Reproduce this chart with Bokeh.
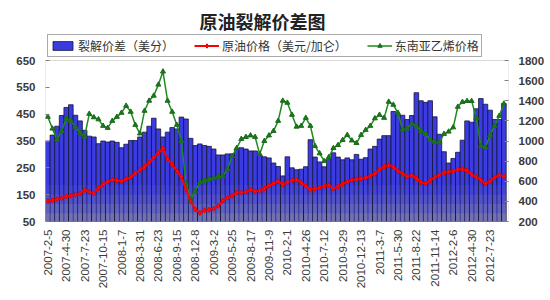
import numpy as np
from bokeh.plotting import figure
from bokeh.models import (Range1d, LinearAxis, FixedTicker, Legend, LegendItem, Label,
                          BoxAnnotation)
from bokeh.embed import file_html
from bokeh.resources import INLINE

# ---- data (one value every 3 weeks) ----
date_labels = ["2007-2-5", "2007-4-30", "2007-7-23", "2007-10-15", "2008-1-7",
               "2008-3-31", "2008-6-23", "2008-9-15", "2008-12-8", "2009-3-2",
               "2009-5-25", "2009-8-17", "2009-11-9", "2010-2-1", "2010-4-26",
               "2010-7-12", "2010-9-29", "2010-12-13", "2011-3-7", "2011-5-30",
               "2011-8-22", "2011-11-14", "2012-2-6", "2012-4-30", "2012-7-23"]

crack = [350, 372, 405, 445, 475, 485, 446, 425, 390, 368,
         365, 340, 350, 346, 350, 345, 325, 338, 352, 352,
         365, 383, 405, 435, 395, 365, 383, 400, 395, 439,
         432, 360, 333, 339, 333, 330, 320, 298, 298, 302,
         302, 320, 325, 320, 313, 313, 298, 291, 287, 268,
         255, 220, 291, 250, 243, 245, 254, 355, 290, 272,
         254, 285, 306, 290, 280, 287, 280, 300, 282, 288,
         320, 330, 357, 370, 370, 460, 448, 446, 430, 445,
         530, 500, 494, 500, 440, 375, 310, 268, 285, 308,
         353, 425, 420, 470, 508, 487, 465, 430, 430, 490]

crude = [126, 130, 133, 137, 143, 146, 150, 154, 168, 160,
         155, 175, 188, 198, 206, 203, 200, 208, 215, 230,
         242, 254, 270, 288, 305, 322, 283, 262, 238, 217,
         170, 125, 95, 82, 92, 94, 98, 108, 127, 138,
         146, 158, 158, 160, 169, 163, 165, 173, 183, 192,
         200, 188, 196, 203, 206, 195, 182, 168, 172, 176,
         183, 185, 172, 180, 190, 198, 205, 207, 209, 213,
         220, 228, 243, 255, 260, 254, 238, 228, 218, 222,
         210, 196, 191, 204, 215, 224, 232, 235, 237, 244,
         245, 240, 225, 216, 205, 191, 200, 214, 224, 218]

ethylene = [1240, 1123, 1015, 1100, 1220, 1200, 1140, 1080, 1044, 1270,
            1235, 1215, 1150, 1130, 1200, 1240, 1280, 1350, 1290, 1160,
            1074, 1300, 1400, 1450, 1560, 1690, 1400, 1290, 1160, 1000,
            580, 426, 500, 590, 605, 620, 630, 645, 652, 720,
            850, 930, 1020, 1040, 1055, 1040, 870, 1000, 1055, 1100,
            1200, 1400, 1380, 1260, 1142, 1150, 1230, 1150, 950, 877,
            800, 840, 930, 960, 1010, 1060, 1005, 980, 1060, 1110,
            1150, 1225, 1260, 1230, 1390, 1360, 1280, 1113, 1123, 1172,
            1145, 1100, 1070, 1010, 990, 985, 1070, 1093, 1135, 1340,
            1388, 1397, 1397, 1230, 950, 935, 1060, 1150, 1250, 1370]

left_ticks = [50, 150, 250, 350, 450, 550, 650]
right_ticks = [200, 400, 600, 800, 1000, 1200, 1400, 1600, 1800]

step = 3
week = [step * i for i in range(len(crack))]
label_weeks = [12 * i for i in range(len(date_labels))]

FONT = "Liberation Sans"
CJK = "Noto Sans CJK SC"

# frame spans from the canvas top down to the plot bottom; the plotted box
# (50..650 / 200..1800) occupies its lower 161 px, the rest holds title + legend
FRAME_H = 221
BOX_H = 161
ly0, ly1 = 50, 650
ry0, ry1 = 200, 1800
ly_top = ly0 + (ly1 - ly0) * FRAME_H / BOX_H
ry_top = ry0 + (ry1 - ry0) * FRAME_H / BOX_H
x0, x1 = -1.5, 300

p = figure(width=550, height=300, output_backend="svg", toolbar_location=None,
           x_range=Range1d(x0, x1), y_range=Range1d(ly0, ly_top),
           min_border_left=45, min_border_right=42, min_border_top=0,
           min_border_bottom=79)
p.extra_y_ranges = {"right": Range1d(ry0, ry_top)}
p.xgrid.visible = False
p.ygrid.visible = False
p.outline_line_color = None
p.background_fill_color = "white"
p.border_fill_color = "white"

# bars: blue body, darkening toward the base (bands without outlines)
bars = p.vbar(x=week, top=crack, bottom=ly0, width=step,
              fill_color="#3b3be2", line_color="#141438", line_width=0.8)
for top, col in ((185, "#4444d4"), (150, "#5252c6"), (115, "#6262b8"), (80, "#7373aa")):
    p.vbar(x=week, top=top, bottom=ly0 + 0.5, width=step * 0.72,
           fill_color=col, line_color=None)

g_line = p.line(week, ethylene, y_range_name="right", line_color="#1f8a1f", line_width=1.5)
g_pts = p.scatter(week, ethylene, y_range_name="right", marker="triangle", size=5,
                  fill_color="#1a7a1a", line_color="#1a6a1a")

r_line = p.line(week, crude, line_color="#ff0000", line_width=2)
r_pts = p.scatter(week, crude, marker="diamond", size=5, fill_color="#ff1010",
                  line_color="#e00000")

# plot box
p.add_layout(BoxAnnotation(left=x0, right=x1, bottom=ly0, top=ly1, fill_alpha=0,
                           line_color="#808080", line_width=1))

# axes
left = p.yaxis[0]
left.ticker = FixedTicker(ticks=left_ticks)
right = LinearAxis(y_range_name="right", ticker=FixedTicker(ticks=right_ticks))
p.add_layout(right, "right")
for ax in (left, right):
    ax.axis_line_color = None
    ax.major_tick_in = 4
    ax.major_tick_out = 0
    ax.minor_tick_line_color = None
    ax.major_tick_line_color = "#808080"
    ax.major_label_text_font = FONT
    ax.major_label_text_font_size = "11.5px"
    ax.major_label_text_color = "#3a3a3a"
    ax.major_label_text_font_style = "bold"
    ax.major_label_standoff = 10

xa = p.xaxis[0]
xa.ticker = FixedTicker(ticks=label_weeks)
xa.major_label_overrides = {w: d for w, d in zip(label_weeks, date_labels)}
xa.major_label_orientation = np.pi / 2
xa.major_tick_in = 0
xa.major_tick_out = 0
xa.minor_tick_line_color = None
xa.axis_line_color = None
xa.major_label_text_font = FONT
xa.major_label_text_font_size = "11.5px"
xa.major_label_text_color = "#3a3a3a"
xa.major_label_standoff = 8

# title
p.add_layout(Label(x=217, y=FRAME_H - 20, x_units="screen", y_units="screen",
                   text="原油裂解价差图", text_align="center", text_baseline="middle",
                   text_font=CJK, text_font_size="18px", text_font_style="bold",
                   text_color="#222222"))

legend = Legend(items=[LegendItem(label="裂解价差（美分）", renderers=[bars]),
                       LegendItem(label="原油价格（美元/加仑）", renderers=[r_line, r_pts]),
                       LegendItem(label="东南亚乙烯价格", renderers=[g_line, g_pts])],
                location=(2, BOX_H + 3), orientation="horizontal",
                border_line_color="#555555", border_line_width=1,
                padding=2, margin=0, spacing=20, glyph_width=25, glyph_height=11,
                label_height=11, label_standoff=3,
                label_text_font=CJK, label_text_font_size="12px",
                label_text_color="#333333", background_fill_alpha=1)
p.add_layout(legend)

open("out.html", "w").write(file_html(p, INLINE))
